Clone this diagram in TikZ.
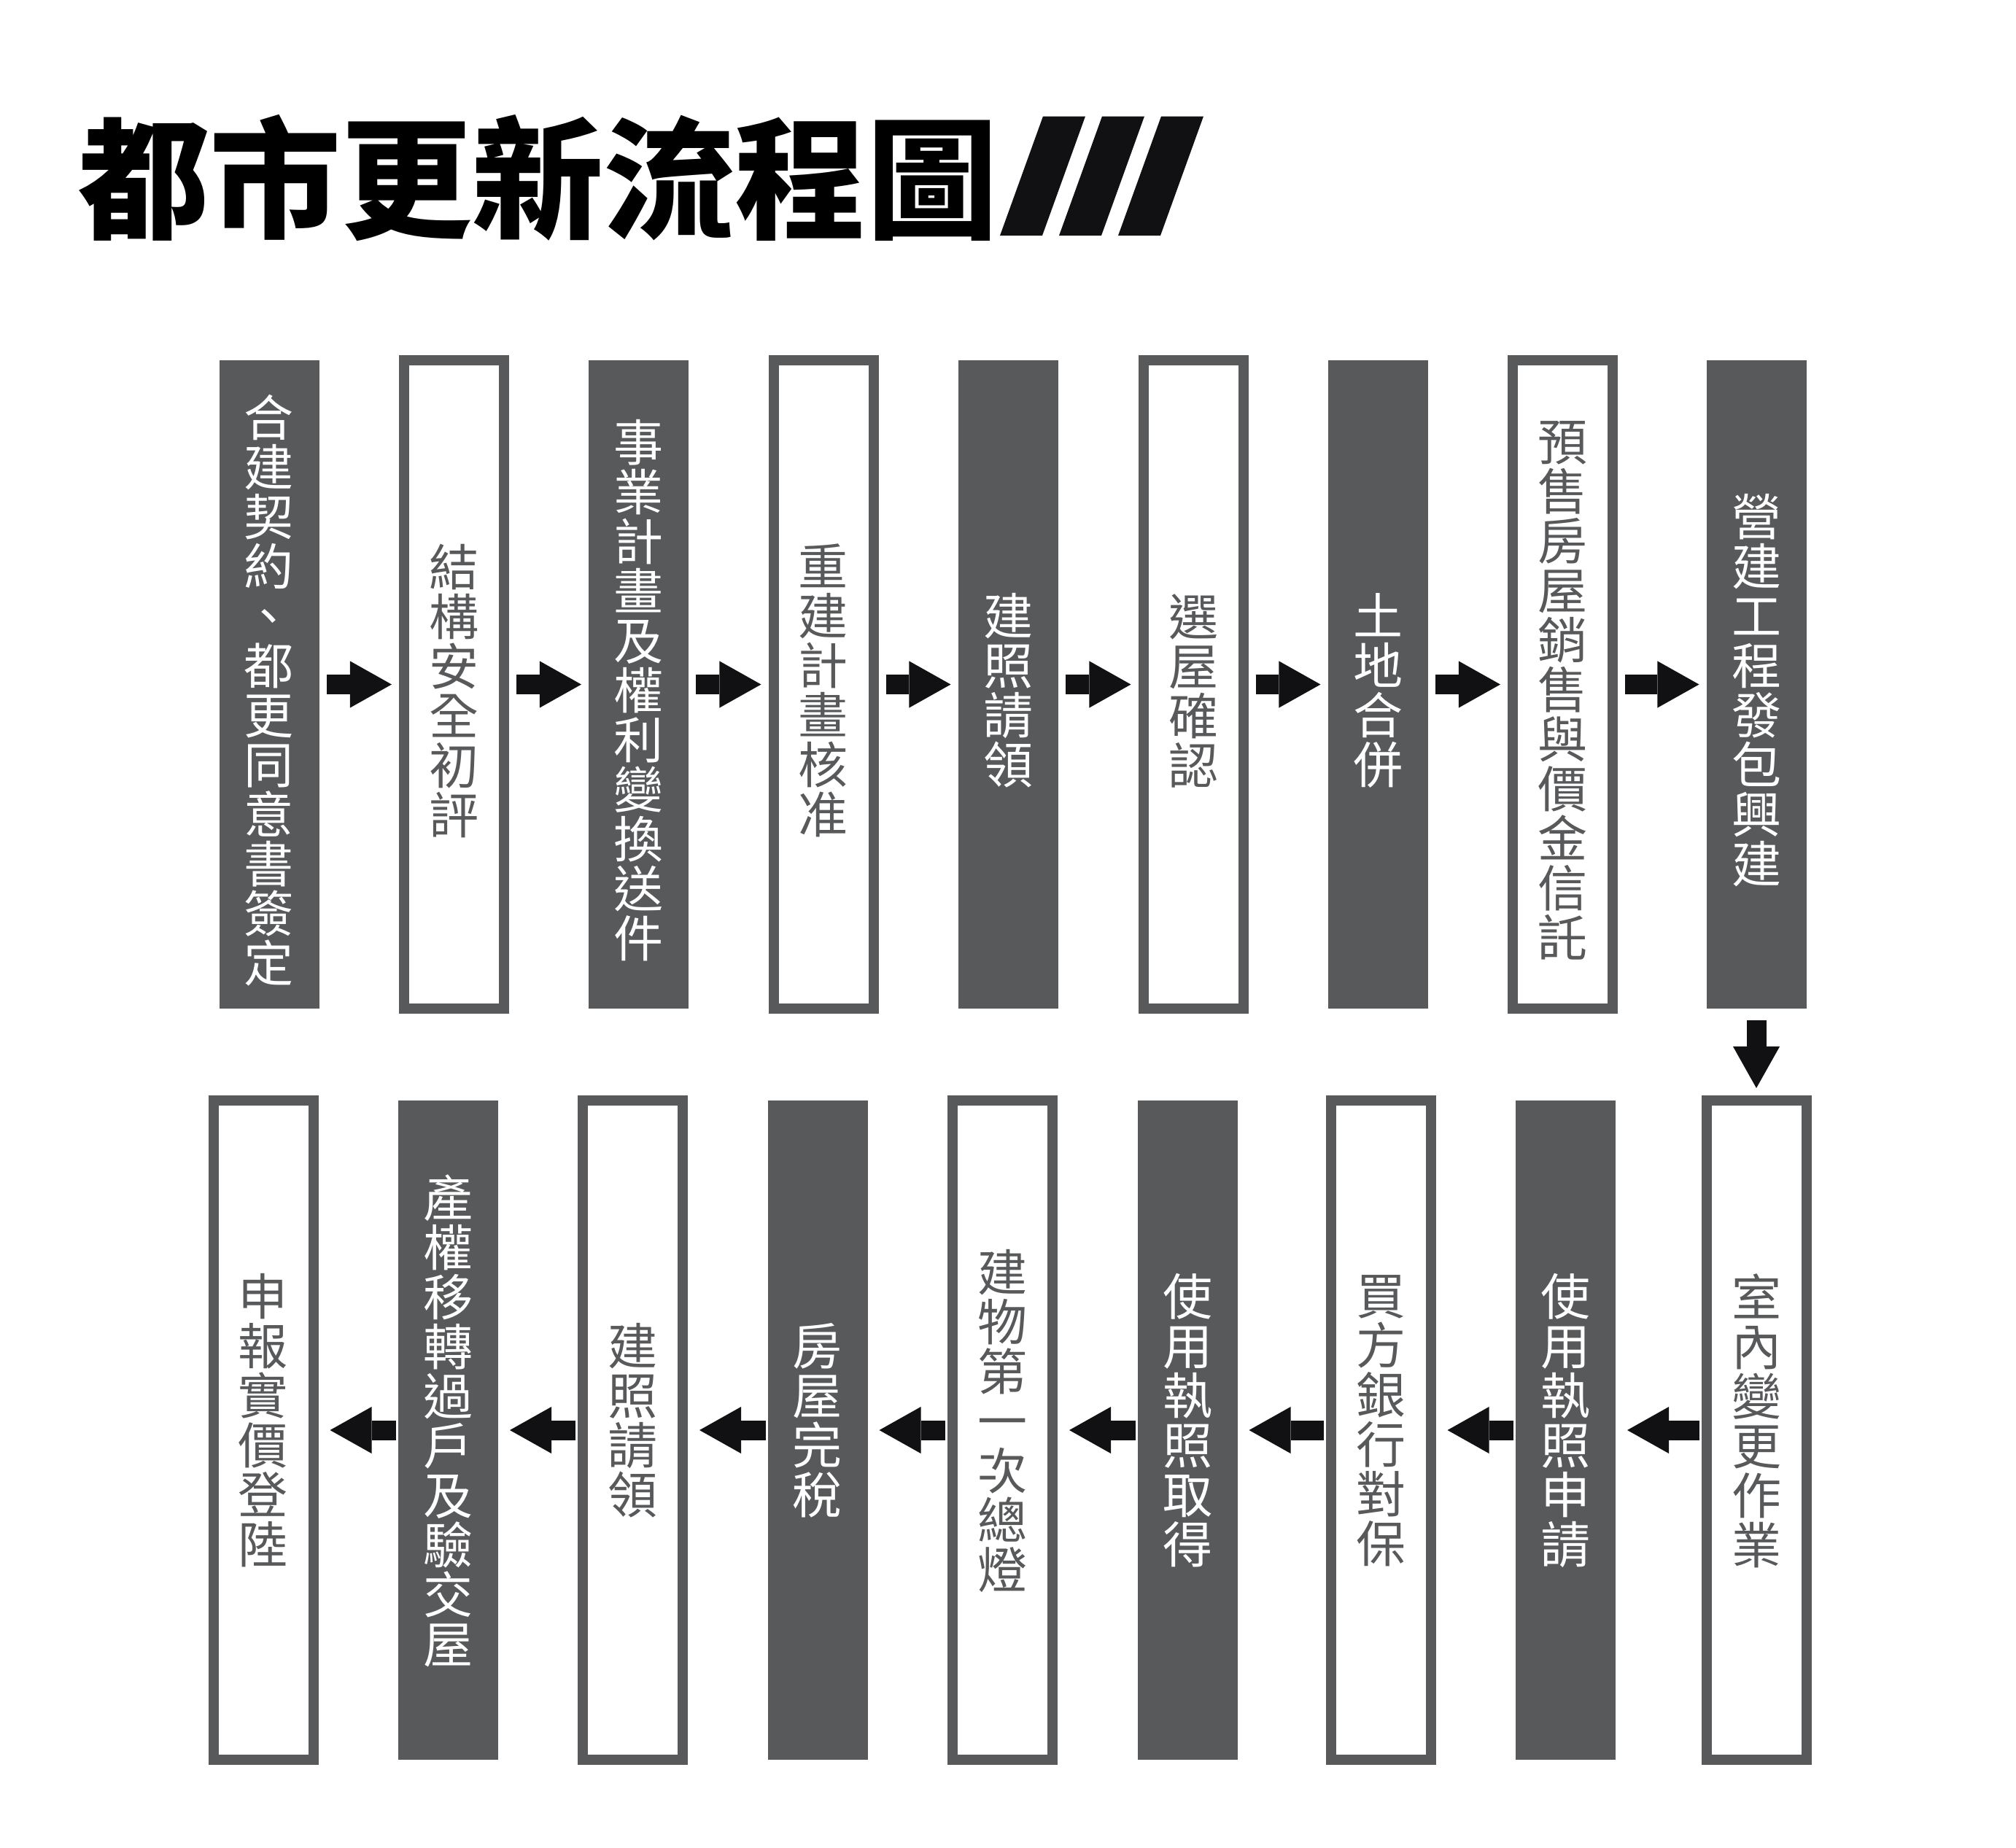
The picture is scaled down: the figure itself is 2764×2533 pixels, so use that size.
\documentclass[tikz,border=0pt]{standalone}
\usepackage{fontspec}
\usepackage{tikz}
\usetikzlibrary{arrows.meta}
\newfontfamily\cjk{Noto Sans CJK TC}
\newlength\pix
\setlength\pix{0.01cm}
\definecolor{boxgray}{RGB}{88,89,91}
\definecolor{arrowblack}{RGB}{17,17,19}
% characters stacked one below the other
\def\vtextend{}
\def\vtextloop#1{\ifx#1\vtextend\else\hbox to 70\pix{\hss#1\hss}\expandafter\vtextloop\fi}
\newcommand\vtext[1]{\vbox{\baselineskip=68\pix\lineskiplimit=-100pt\expandafter\vtextloop#1\vtextend}}
\tikzset{dark/.style={fill=boxgray,minimum width=137\pix,inner sep=0pt,outer sep=0pt}}
\tikzset{light/.style={draw=boxgray,line width=14\pix,fill=white,minimum width=137\pix,inner sep=0pt,outer sep=7\pix}}
\tikzset{lbl/.style={font=\cjk\fontsize{19.35}{19.35}\selectfont,inner sep=0pt}}
\tikzset{headline/.style={font=\cjk\bfseries\fontsize{51.2}{51.2}\selectfont,anchor=west,inner sep=0pt}}
\tikzset{flow/.style={draw=arrowblack,line width=0.27cm,-{Triangle[length=0.57cm,width=0.64cm,line width=0pt]}}}

\begin{document}
\begin{tikzpicture}[x=0.01cm,y=-0.01cm]
\useasboundingbox (0,0) rectangle (2764,2533);
\node[headline] (T) at (107,244) {都市更新流程圖};
\foreach \k in {0,1,2}
	\fill[arrowblack] (1371+81*\k,323) -- (1430+81*\k,159.5) -- (1488+81*\k,159.5) -- (1429+81*\k,323) -- cycle;

% first row
\foreach \i/\x/\txt in {1/369/合建契約、都更同意書簽定,3/875.5/事業計畫及權利變換送件,5/1382/建照請領,7/1889/土地合併,9/2408/營建工程發包興建} {
	\node[dark,minimum height=889\pix] (A\i) at (\x,938.5) {};
	\node[lbl,text=white] (TA\i) at (\x,947) {\vtext{\txt}};
	}
\foreach \i/\x/\txt in {2/622.5/結構安全初評,4/1129/重建計畫核准,6/1636/選屋確認,8/2142.5/預售房屋銷售與價金信託} {
	\node[light,minimum height=889\pix] (A\i) at (\x,938.5) {};
	\node[lbl,text=boxgray] (TA\i) at (\x,947) {\vtext{\txt}};
	}
% second row, right to left
\foreach \i/\x/\txt in {1/2408/室內變更作業,3/1893/買方銀行對保,5/1374.5/建物第一次總燈,7/867.5/建照請領,9/361/申報實價登陸} {
	\node[light,minimum height=904\pix] (B\i) at (\x,1961) {};
	\node[lbl,text=boxgray] (TB\i) at (\x,1948) {\vtext{\txt}};
	}
\foreach \i/\x/\txt in {2/2146.5/使用執照申請,4/1628/使用執照取得,6/1121/房屋完稅,8/614.5/產權移轉過戶及驗交屋} {
	\node[dark,minimum height=904\pix] (B\i) at (\x,1961) {};
	\node[lbl,text=white] (TB\i) at (\x,1948) {\vtext{\txt}};
	}

\foreach \i / \j in {1/2,2/3,3/4,4/5,5/6,6/7,7/8,8/9} {
	\draw[flow] ([xshift=0.1cm]A\i.east) -- ([xshift=-0.1cm]A\j.west);
	\draw[flow] ([xshift=-0.03cm]B\i.west) -- ([xshift=0.16cm]B\j.east);
}
\draw[flow] ([yshift=-0.16cm]A9.south) -- ([yshift=0.1cm]B1.north);
\end{tikzpicture}
\end{document}
